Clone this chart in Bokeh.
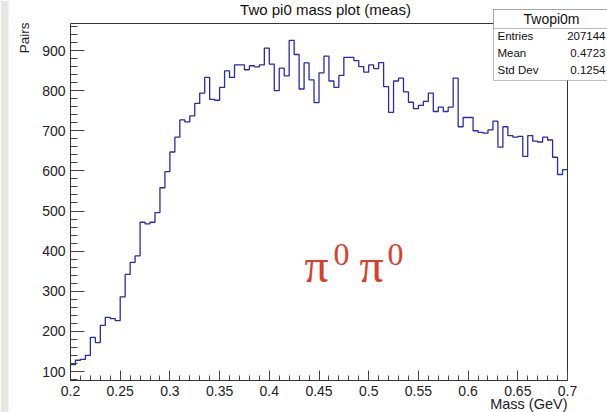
import numpy as np
from math import pi
from bokeh.plotting import figure
from bokeh.models import FixedTicker, CustomJSTickFormatter, Label, BoxAnnotation
from bokeh.embed import file_html
from bokeh.resources import INLINE

# ---------------- data ----------------
bin_low = 0.2
bin_high = 0.7
bin_width = 0.005
counts = [117, 128, 130, 140, 185, 172, 215, 235, 232, 227,
          286, 342, 372, 388, 472, 468, 472, 496, 558, 598,
          647, 684, 727, 722, 737, 768, 794, 833, 778, 776,
          808, 849, 833, 864, 864, 852, 862, 859, 864, 906,
          866, 800, 856, 837, 925, 890, 804, 869, 827, 770,
          844, 886, 824, 808, 838, 883, 883, 875, 860, 846,
          864, 855, 870, 810, 746, 824, 831, 797, 771, 755,
          763, 773, 794, 748, 759, 748, 759, 831, 710, 733,
          733, 700, 696, 694, 702, 724, 659, 710, 688, 684,
          686, 636, 688, 674, 672, 684, 677, 634, 591, 603]
x_ticks = [0.2, 0.25, 0.3, 0.35, 0.4, 0.45, 0.5, 0.55, 0.6, 0.65, 0.7]
y_ticks = [100, 200, 300, 400, 500, 600, 700, 800, 900]
title_text = "Two pi0 mass plot (meas)"
x_title = "Mass (GeV)"
y_title = "Pairs"
stats_name = "Twopi0m"
stats_keys = ["Entries", "Mean", "Std Dev"]
stats_vals = ["207144", "0.4723", "0.1254"]
note_parts = ["π", "0", "π", "0"]

# ---------------- pixel layout helpers ----------------
W, H = 607, 412
FL, FR, FT, FB = 70, 567, 23, 380      # ROOT frame, in picture pixels


def xd(px):
    return bin_low + (px - FL) * 0.5 / 497


def yd(py):
    return 100 + (371 - py) * 800 / 321


Y_BOTTOM = yd(FB)
Y_FRAME_TOP = yd(FT)

p = figure(width=W, height=H,
           x_range=(xd(0), xd(W)), y_range=(yd(H), yd(0)),
           output_backend="svg", toolbar_location=None,
           min_border_left=0, min_border_right=0,
           min_border_top=0, min_border_bottom=0,
           margin=(0, 0, 0, 0))
p.background_fill_color = "white"
p.border_fill_color = "white"
p.outline_line_color = None
p.xgrid.visible = False
p.ygrid.visible = False

# grey strip of the slide background on the far left
p.add_layout(BoxAnnotation(left=xd(0), right=xd(8), bottom=yd(H), top=yd(0),
                           fill_color="#e8e6e3", fill_alpha=1, line_alpha=0, level="underlay"))

# frame top and right lines
p.segment(x0=[bin_low, bin_high], y0=[Y_FRAME_TOP, Y_BOTTOM],
          x1=[bin_high, bin_high], y1=[Y_FRAME_TOP, Y_FRAME_TOP],
          line_color="#333333", line_width=1)

# histogram
edges = [bin_low + bin_width * i for i in range(len(counts))] + [bin_high]
vals = counts + [counts[-1]]
p.step(x=edges, y=vals, mode="after", line_color="#2a2aae", line_width=1.3)

x_minor = [round(v, 3) for v in np.arange(0.2, 0.7001, 0.01)]
y_minor = list(range(80, 961, 20))
p.xaxis.ticker = FixedTicker(ticks=x_ticks, minor_ticks=x_minor)
p.yaxis.ticker = FixedTicker(ticks=y_ticks, minor_ticks=y_minor)
p.xaxis.formatter = CustomJSTickFormatter(code="return String(Math.round(tick*1000)/1000);")
p.xaxis.bounds = (bin_low, bin_high)
p.yaxis.bounds = (Y_BOTTOM, Y_FRAME_TOP)
p.xaxis.fixed_location = Y_BOTTOM
p.yaxis.fixed_location = bin_low

for ax in (p.xaxis[0], p.yaxis[0]):
    ax.axis_line_color = "#333333"
    ax.major_tick_line_color = "#444444"
    ax.minor_tick_line_color = "#444444"
    ax.major_tick_out = 0
    ax.minor_tick_out = 0
    ax.major_label_text_font = "Liberation Sans"
    ax.major_label_text_font_size = "14px"
    ax.major_label_text_color = "#222222"
p.xaxis.major_tick_in = 10
p.xaxis.minor_tick_in = 5
p.yaxis.major_tick_in = 14
p.yaxis.minor_tick_in = 7
p.xaxis.major_label_standoff = 5
p.yaxis.major_label_standoff = 5

# axis titles (ROOT style: at the far end of each axis)
p.add_layout(Label(x=xd(24), y=yd(22), text=y_title, angle=pi / 2,
                   text_align="right", text_baseline="middle",
                   text_font="Liberation Sans", text_font_size="13.5px", text_color="#222222"))
p.add_layout(Label(x=bin_high, y=yd(403), text=x_title,
                   text_align="right", text_baseline="middle",
                   text_font="Liberation Sans", text_font_size="14.5px", text_color="#222222"))

# plot title
p.add_layout(Label(x=xd(325), y=yd(9), text=title_text,
                   text_align="center", text_baseline="middle",
                   text_font="Liberation Sans", text_font_size="15px", text_color="#111111"))

# stats box
p.add_layout(BoxAnnotation(left=xd(493), right=xd(640), top=yd(9), bottom=yd(80),
                           fill_color="white", fill_alpha=1, line_color="#222222", line_width=1))
p.add_layout(BoxAnnotation(left=xd(493), right=xd(640), top=yd(9), bottom=yd(28),
                           fill_color="white", fill_alpha=1, line_color="#222222", line_width=1))
p.add_layout(Label(x=xd(551), y=yd(18), text=stats_name, text_align="center",
                   text_baseline="middle", text_font="Liberation Sans",
                   text_font_size="14px", text_color="#111111"))
for i, (k, v) in enumerate(zip(stats_keys, stats_vals)):
    yy = yd(35 + 17 * i)
    p.add_layout(Label(x=xd(497), y=yy, text=k, text_align="left", text_baseline="middle",
                       text_font="Liberation Sans", text_font_size="11.5px", text_color="#111111"))
    p.add_layout(Label(x=xd(605), y=yy, text=v, text_align="right", text_baseline="middle",
                       text_font="Liberation Sans", text_font_size="11.5px", text_color="#111111"))

# big red pi0 pi0 annotation
note_x = [304, 333, 359, 387]
note_y = [265, 253.5, 265, 253.5]
note_size = ["48px", "32px", "48px", "32px"]
for t, nx, ny, ns in zip(note_parts, note_x, note_y, note_size):
    p.add_layout(Label(x=xd(nx), y=yd(ny), text=t, text_align="left",
                       text_baseline="middle", text_font="Liberation Serif",
                       text_font_size=ns, text_color="#d8402b"))

open("out.html", "w").write(file_html(p, INLINE))
